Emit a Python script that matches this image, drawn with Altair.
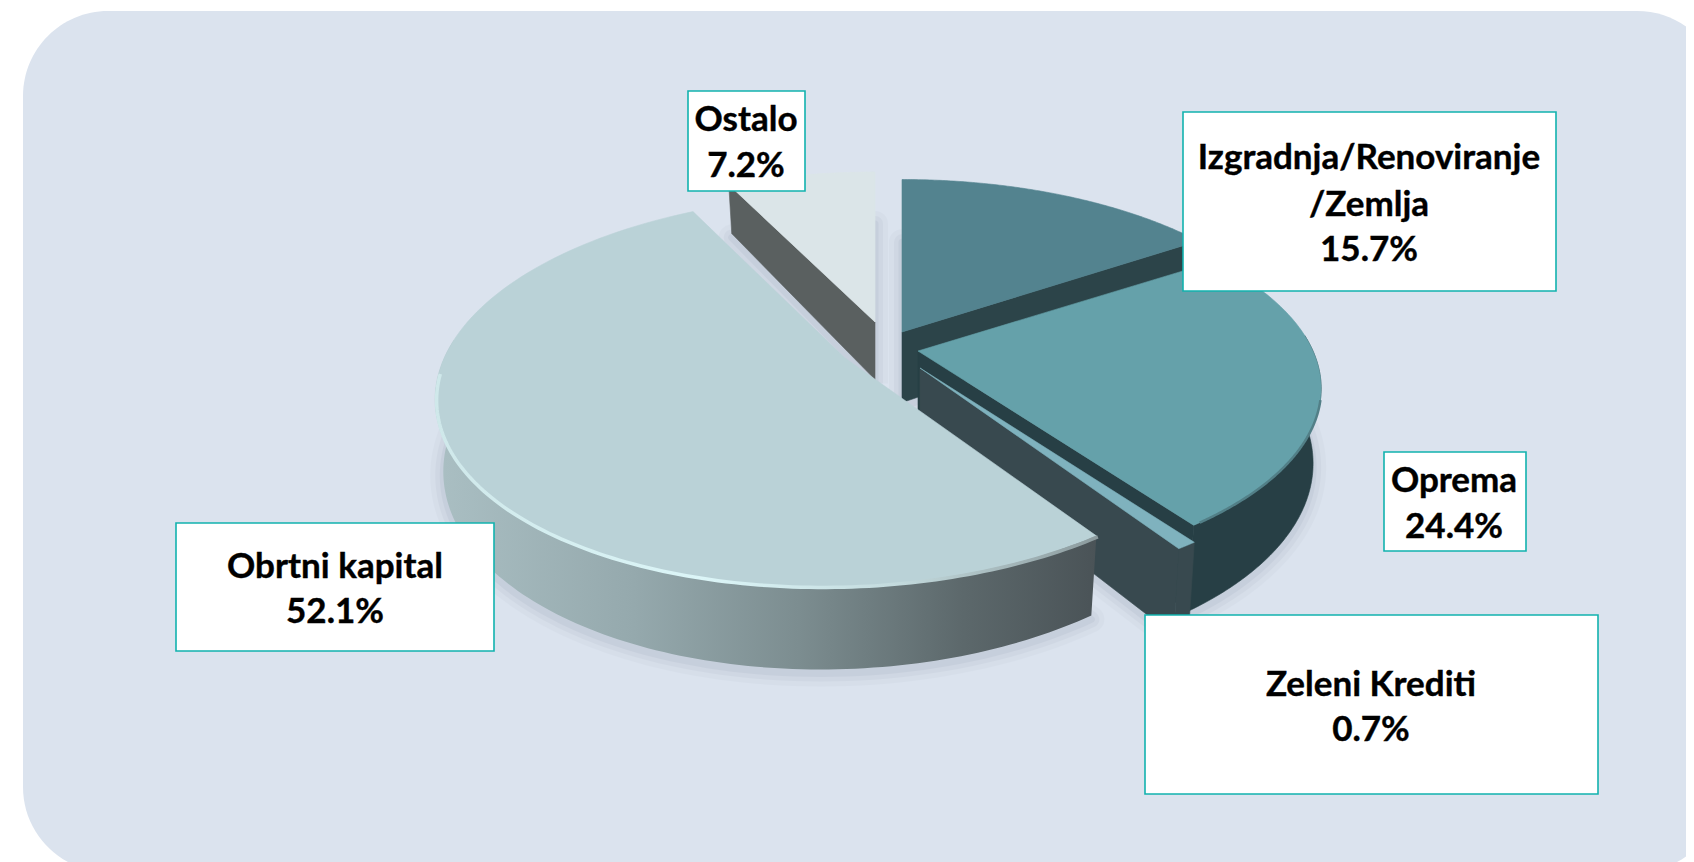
import numpy as np
import pandas as pd
import altair as alt

# ---- data
names = ["Izgradnja/Renoviranje /Zemlja", "Oprema", "Zeleni Krediti", "Obrtni kapital", "Ostalo"]
shares = [15.7, 24.4, 0.7, 52.1, 7.2]
top_colors = ["#53838f", "#65a1aa", "#7fb2be", "#bad2d7", "#dbe5e8"]
wall_colors = ["#2c4449", "#273f45", "#38494f", "#8fa4a8", "#5a6060"]
apex_x = [902, 918, 920, 845, 875]
apex_y = [332, 351, 368, 358, 322]
depth_factor = [0.98, 1.0, 1.0, 0.96, 0.8]
paint_order = [4, 0, 1, 2, 3]

# per-slice projection of the tilted disc
rad_a = [395.0, 395.0, 393.0, 398.0, 395.0]
rad_e = [183.0, 180.0, 180.0, 190.0, 180.0]
rad_d = [0.0, 0.0, 0.0, -8.0, 0.0]
tilt_g = [-0.2, -0.2, -0.2, -0.167, -0.2]
tilt_h = [0.0, 0.0, 0.0, 0.015, 0.0]

box_left = [1183, 1384, 1145, 176, 688]
box_right = [1556, 1526, 1598, 494, 805]
box_top = [112, 452, 615, 523, 91]
box_bottom = [291, 551, 794, 651, 191]

label_lines = ["Izgradnja/Renoviranje", "/Zemlja", "15.7%", "Oprema", "24.4%", "Zeleni Krediti", "0.7%",
               "Obrtni kapital", "52.1%", "Ostalo", "7.2%"]
label_x = [1369, 1369, 1369, 1454, 1454, 1371, 1371, 335, 335, 746, 746]
label_y = [158, 205, 250, 481, 527, 685, 730, 567, 612, 120, 166]

BASE_DEPTH, INWARD = 72.0, 0.98
total = sum(shares)
edges = np.cumsum([0] + shares) / total * 360.0

X = alt.X("x:Q", scale=alt.Scale(domain=[8, 1686], nice=False, zero=False), axis=None)
Y = alt.Y("y:Q", scale=alt.Scale(domain=[862, 8], nice=False, zero=False), axis=None)


def top_rim(k, deg):
    t = np.radians(deg)
    u, v = np.sin(t), -np.cos(t)
    w = 1 + tilt_g[k] * v + tilt_h[k] * u
    return apex_x[k] + rad_a[k] * u / w, apex_y[k] + (rad_e[k] * v + rad_d[k] * u) / w, w


def low_rim(k, deg):
    x, y, w = top_rim(k, deg)
    return apex_x[k] + (x - apex_x[k]) * INWARD, y + BASE_DEPTH * depth_factor[k] / w


def apex_low(k):
    return apex_x[k], apex_y[k] + BASE_DEPTH * depth_factor[k]


def arc(fn, k, a0, a1):
    return [fn(k, d)[:2] for d in np.linspace(a0, a1, 120)]


def poly(points, fill, opacity=1.0, stroke_width=0.6, stroke=None):
    pts = list(points) + [points[0]]
    df = pd.DataFrame({"x": [p[0] for p in pts], "y": [p[1] for p in pts], "i": range(len(pts))})
    return alt.Chart(df).mark_line(
        fill=fill, stroke=stroke if stroke is not None else fill, strokeWidth=stroke_width,
        opacity=opacity, strokeJoin="round", clip=False
    ).encode(x=X, y=Y, order="i:Q")


def path(points, stroke, width):
    df = pd.DataFrame({"x": [p[0] for p in points], "y": [p[1] for p in points], "i": range(len(points))})
    return alt.Chart(df).mark_line(stroke=stroke, strokeWidth=width, strokeCap="butt").encode(x=X, y=Y, order="i:Q")


layers = []

# background panel
bg = pd.DataFrame({"x": [23], "x2": [1722], "y": [11], "y2": [872]})
layers.append(alt.Chart(bg).mark_rect(fill="#dbe3ee", cornerRadius=85).encode(x=X, x2="x2:Q", y=Y, y2="y2:Q"))

# soft shadow under the slices
for k in paint_order:
    a0, a1 = edges[k], edges[k + 1]
    shape = [(apex_low(k)[0], apex_low(k)[1] + 4)] + [(p[0], p[1] + 4) for p in arc(low_rim, k, a0, a1)]
    for w, o in [(26, 0.06), (16, 0.09), (7, 0.12)]:
        layers.append(poly(shape, "#8e99ad", opacity=o, stroke_width=w, stroke="#8e99ad"))

# slices, back to front
obrtni_wall = alt.Gradient(
    gradient="linear", x1=0, x2=1, y1=0, y2=0,
    stops=[alt.GradientStop(offset=0.0, color="#aabfc3"),
           alt.GradientStop(offset=0.3, color="#95a9ad"),
           alt.GradientStop(offset=0.55, color="#7c8d90"),
           alt.GradientStop(offset=0.8, color="#5c686b"),
           alt.GradientStop(offset=1.0, color="#4a5357")],
)
highlight = alt.Gradient(
    gradient="linear", x1=0, x2=1, y1=0, y2=0,
    stops=[alt.GradientStop(offset=0.0, color="#cfe8ea"),
           alt.GradientStop(offset=0.4, color="#dcf6f8"),
           alt.GradientStop(offset=0.7, color="#c3dadd"),
           alt.GradientStop(offset=1.0, color="#8b9a9d")],
)

for k in paint_order:
    a0, a1 = edges[k], edges[k + 1]
    wall = wall_colors[k]
    # cut face visible towards the viewer
    if names[k] == "Ostalo":
        r, rl = top_rim(k, a0)[:2], low_rim(k, a0)
    else:
        r, rl = top_rim(k, a1)[:2], low_rim(k, a1)
    if names[k] != "Obrtni kapital":
        layers.append(poly([(apex_x[k], apex_y[k]), r, rl, apex_low(k)], wall))
    # outer wall: only the part of the rim that faces the viewer
    f0, f1 = max(a0, 85.0), min(a1, 278.0)
    if f1 > f0:
        strip = arc(top_rim, k, f0, f1) + arc(low_rim, k, f0, f1)[::-1]
        if names[k] == "Obrtni kapital":
            layers.append(poly(strip, obrtni_wall, stroke_width=0))
        else:
            layers.append(poly(strip, wall))
    # top face
    layers.append(poly([(apex_x[k], apex_y[k])] + arc(top_rim, k, a0, a1), top_colors[k]))

# rim bevels
k_ob = names.index("Obrtni kapital")
rim_line = [(p[0] + 1.5, p[1] + 1.0) for p in arc(top_rim, k_ob, edges[k_ob], 268)[::-1]]
layers.append(path(rim_line, highlight, 3.5))
k_op = names.index("Oprema")
layers.append(path(arc(top_rim, k_op, 105, edges[k_op + 1] - 1), "#527f87", 2.5))

# label boxes and text
boxes = pd.DataFrame({"x": box_left, "x2": box_right, "y": box_top, "y2": box_bottom})
layers.append(alt.Chart(boxes).mark_rect(fill="#ffffff", stroke="#12b2ae", strokeWidth=1.6)
              .encode(x=X, x2="x2:Q", y=Y, y2="y2:Q"))
labels = pd.DataFrame({"x": label_x, "y": label_y, "t": label_lines})
layers.append(alt.Chart(labels).mark_text(font="Lato", fontWeight="bold", fontSize=35, color="#000000",
                                          stroke="#000000", strokeWidth=0.4,
                                          baseline="middle", align="center")
              .encode(x=X, y=Y, text="t:N"))

chart = alt.layer(*layers).properties(
    width=1678, height=854,
    padding=0,
    autosize=alt.AutoSizeParams(type="none"),
    background="#ffffff",
).configure_view(stroke=None)

chart.save("out.html", embed_options={"renderer": "svg", "actions": False})
